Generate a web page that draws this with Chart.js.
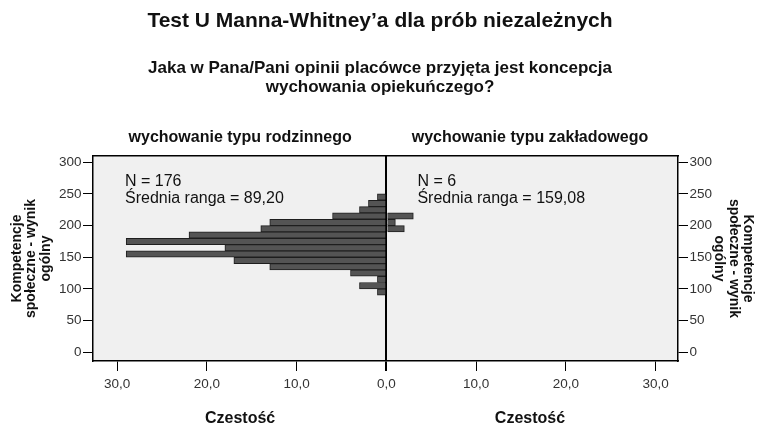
<!DOCTYPE html>
<html>
<head>
<meta charset="utf-8">
<script src="https://cdn.jsdelivr.net/npm/chart.js@4.4.0/dist/chart.umd.min.js"></script>
<style>
  html, body { margin: 0; padding: 0; background: #fff; }
  canvas { display: block; }
</style>
</head>
<body>
<canvas id="chart" width="760" height="431"></canvas>
<script>
// histogram bins (centre of each 10-point bin)
const binCenters   = [95, 105, 115, 125, 135, 145, 155, 165, 175, 185, 195, 205, 215, 225, 235, 245];
const familyCounts = [1, 3, 1, 4, 13, 17, 29, 18, 29, 22, 14, 13, 6, 3, 2, 1];
const instCounts   = [0, 0, 0, 0, 0, 0, 0, 0, 0, 0, 2, 1, 3, 0, 0, 0];

const yTicks = [0, 50, 100, 150, 200, 250, 300];
const xTicks = [-30, -20, -10, 0, 10, 20, 30];
const panelPos   = [-16.3, 16.0];
const panelNames = ['wychowanie typu rodzinnego', 'wychowanie typu zakładowego'];
const panelStats = [['N = 176', 'Średnia ranga = 89,20'], ['N = 6', 'Średnia ranga = 159,08']];
const yTitle = ['Kompetencje', 'społeczne - wynik', 'ogólny'];
const xTitle = 'Czestość';

const FONT = '"Liberation Sans", Arial, sans-serif';
Chart.defaults.font.family = FONT;
Chart.defaults.color = '#222';

const panelBg = {
  id: 'panelBg',
  beforeDraw(chart) {
    const { ctx, chartArea: a } = chart;
    ctx.save();
    ctx.fillStyle = '#fff';
    ctx.fillRect(0, 0, chart.width, chart.height);
    ctx.fillStyle = '#f0f0f0';
    ctx.fillRect(a.left, a.top, a.right - a.left, a.bottom - a.top);
    ctx.restore();
  }
};

// "N = ..." / "Średnia ranga = ..." in each panel
const panelText = {
  id: 'panelText',
  afterDraw(chart) {
    const { ctx, chartArea: a } = chart;
    const x0 = chart.scales.x.getPixelForValue(0);
    const lefts = [a.left + 32, x0 + 31];
    ctx.save();
    ctx.font = '16px ' + FONT;
    ctx.fillStyle = '#111';
    ctx.textBaseline = 'alphabetic';
    panelStats.forEach((lines, p) => {
      lines.forEach((t, i) => ctx.fillText(t, lefts[p], a.top + 30 + i * 17));
    });
    ctx.restore();
  }
};

const xRange = { min: -32.7, max: 32.5 };
const yRange = { min: -14, max: 310 };

const barStyle = {
  backgroundColor: '#545454',
  borderColor: '#1e1e1e',
  borderWidth: 1,
  barPercentage: 1,
  categoryPercentage: 1,
  grouped: false,
  xAxisID: 'x',
  yAxisID: 'y'
};

const yAxis = (position, width, titlePad) => ({
  type: 'linear', position,
  min: yRange.min, max: yRange.max,
  offset: false,
  afterBuildTicks: s => { s.ticks = yTicks.map(v => ({ value: v })); },
  afterFit: s => { s.width = width; },
  grid: { offset: false, drawOnChartArea: false, tickColor: '#000', tickLength: 10 },
  border: { color: '#000', width: 1.5 },
  ticks: { callback: v => String(v), color: '#333', font: { size: 13.5 }, padding: 1.5 },
  title: {
    display: true, text: yTitle, color: '#111',
    font: { size: 14, weight: 'bold', lineHeight: 1.03 },
    padding: { top: titlePad }
  }
});

new Chart(document.getElementById('chart'), {
  type: 'bar',
  data: {
    datasets: [
      Object.assign({
        label: panelNames[0],
        data: binCenters.map((b, i) => ({ y: b, x: -familyCounts[i] })).filter(d => d.x !== 0)
      }, barStyle),
      Object.assign({
        label: panelNames[1],
        data: binCenters.map((b, i) => ({ y: b, x: instCounts[i] })).filter(d => d.x !== 0)
      }, barStyle)
    ]
  },
  options: {
    indexAxis: 'y',
    responsive: false,
    animation: false,
    layout: { padding: 0 },
    plugins: {
      legend: { display: false },
      tooltip: { enabled: false },
      title: {
        display: true,
        text: 'Test U Manna-Whitney’a dla prób niezależnych',
        color: '#111',
        font: { size: 21, weight: 'bold', lineHeight: 1.2 },
        padding: { top: 9, bottom: 25 }
      },
      subtitle: {
        display: true,
        text: ['Jaka w Pana/Pani opinii placówce przyjęta jest koncepcja', 'wychowania opiekuńczego?'],
        color: '#111',
        font: { size: 17, weight: 'bold', lineHeight: 1.12 },
        padding: 0
      }
    },
    scales: {
      x: {
        type: 'linear', position: 'bottom', weight: 0, z: 1,
        min: xRange.min, max: xRange.max,
        afterBuildTicks: s => { s.ticks = xTicks.map(v => ({ value: v })); },
        afterFit: s => { s.height = 32; },
        grid: {
          drawOnChartArea: true,
          color: c => (c.tick && c.tick.value === 0) ? '#000' : 'rgba(0,0,0,0)',
          lineWidth: c => (c.tick && c.tick.value === 0) ? 2 : 1,
          tickColor: '#000',
          tickLength: 10
        },
        border: { color: '#000', width: 1.5 },
        ticks: {
          callback: v => Math.abs(v).toFixed(1).replace('.', ','),
          color: '#333', font: { size: 13.5 }, padding: 5, maxRotation: 0, autoSkip: false
        }
      },
      xLab: {
        type: 'linear', position: 'bottom', weight: 1,
        min: xRange.min, max: xRange.max,
        afterBuildTicks: s => { s.ticks = panelPos.map(v => ({ value: v })); },
        afterFit: s => { s.height = 38; },
        grid: { display: false, drawTicks: false },
        border: { display: false },
        ticks: {
          callback: () => xTitle,
          color: '#111', font: { size: 16, weight: 'bold' }, padding: 16, maxRotation: 0, autoSkip: false
        }
      },
      xTop: {
        type: 'linear', position: 'top',
        min: xRange.min, max: xRange.max,
        afterBuildTicks: s => { s.ticks = panelPos.map(v => ({ value: v })); },
        afterFit: s => { s.height = 58.7; },
        grid: { display: false, drawTicks: false },
        border: { color: '#000', width: 1.5 },
        ticks: {
          callback: (v, i) => panelNames[i],
          color: '#111', font: { size: 16, weight: 'bold' }, padding: 8.5, maxRotation: 0, autoSkip: false
        }
      },
      y: yAxis('left', 93, 10),
      y2: yAxis('right', 82, 5)
    }
  },
  plugins: [panelBg, panelText]
});
</script>
</body>
</html>
